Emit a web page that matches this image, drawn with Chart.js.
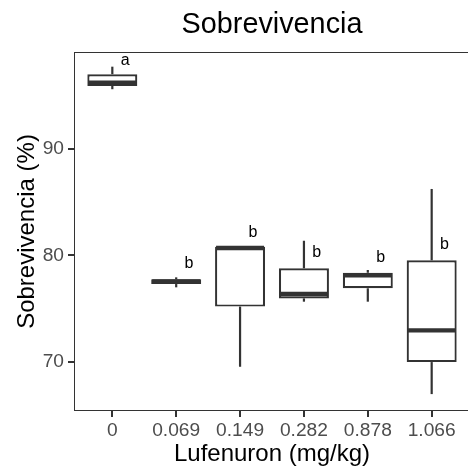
<!DOCTYPE html>
<html><head><meta charset="utf-8">
<script src="https://cdn.jsdelivr.net/npm/chart.js@4"></script>
<style>html,body{margin:0;padding:0;overflow:hidden;background:#fff;width:468px;height:469px}canvas{display:block}</style>
</head><body>
<canvas id="c" width="472" height="469"></canvas>
<script>
// ---- data ----
const categories  = ['0', '0.069', '0.149', '0.282', '0.878', '1.066'];
const whiskerMin  = [95.62, 76.99, 69.52, 75.64, 75.64, 66.95];
const q1          = [95.93, 77.30, 75.18, 75.95, 76.90, 69.96];
const median      = [96.24, 77.55, 80.69, 76.36, 78.12, 72.94];
const q3          = [97.03, 77.74, 80.80, 78.78, 78.36, 79.53];
const whiskerMax  = [97.74, 77.93, 80.80, 81.37, 78.62, 86.24];
const groupLetters = ['a', 'b', 'b', 'b', 'b', 'b'];
const letterY     = [97.90, 78.78, 81.72, 79.84, 79.37, 80.64];
const yTicks      = [70, 80, 90];
const chartTitle  = 'Sobrevivencia';
const xTitle      = 'Lufenuron (mg/kg)';
const yTitle      = 'Sobrevivencia (%)';

const INK = '#333333';
const FONT = "'Liberation Sans', Arial, Helvetica, sans-serif";
const TICK_LEN = 6;
const LINE_W = 2.2;

const boxExtras = {
  id: 'boxExtras',
  afterDraw(chart) {
    const ctx = chart.ctx, xs = chart.scales.x, ys = chart.scales.y;
    const meta = chart.getDatasetMeta(0);
    const a = chart.chartArea;
    ctx.save();
    ctx.strokeStyle = INK;
    ctx.lineCap = 'butt';
    categories.forEach((c, i) => {
      const bar = meta.data[i];
      const cx = xs.getPixelForValue(i);
      const half = bar.width / 2;
      ctx.strokeStyle = INK;
      ctx.lineWidth = LINE_W;
      ctx.beginPath();
      ctx.moveTo(cx, ys.getPixelForValue(whiskerMax[i]));
      ctx.lineTo(cx, ys.getPixelForValue(q3[i]));
      ctx.stroke();
      ctx.beginPath();
      ctx.moveTo(cx, ys.getPixelForValue(q1[i]));
      ctx.lineTo(cx, ys.getPixelForValue(whiskerMin[i]));
      ctx.stroke();
      ctx.lineWidth = LINE_W * 2;
      const my = ys.getPixelForValue(median[i]);
      ctx.beginPath();
      ctx.moveTo(cx - half + 1, my);
      ctx.lineTo(cx + half - 1, my);
      ctx.stroke();
      ctx.fillStyle = '#000';
      ctx.font = '16px ' + FONT;
      ctx.textAlign = 'center';
      ctx.textBaseline = 'alphabetic';
      ctx.fillText(groupLetters[i], xs.getPixelForValue(i + 0.2), ys.getPixelForValue(letterY[i]));
    });
    // x-axis tick marks
    ctx.strokeStyle = INK;
    ctx.lineWidth = 2;
    categories.forEach((c, i) => {
      const px = Math.round(xs.getPixelForValue(i));
      ctx.beginPath();
      ctx.moveTo(px, a.bottom - 1);
      ctx.lineTo(px, a.bottom + TICK_LEN);
      ctx.stroke();
    });
    // y-axis tick marks
    yTicks.forEach(v => {
      const py = Math.round(ys.getPixelForValue(v));
      ctx.beginPath();
      ctx.moveTo(a.left - TICK_LEN, py);
      ctx.lineTo(a.left + 1, py);
      ctx.stroke();
    });
    // panel border
    ctx.lineWidth = 1;
    ctx.strokeRect(a.left + 0.5, a.top + 0.5, a.right - a.left - 1, a.bottom - a.top - 1);
    // main title
    ctx.font = '28.8px ' + FONT;
    ctx.fillStyle = '#000';
    ctx.textAlign = 'center';
    ctx.textBaseline = 'alphabetic';
    ctx.fillText(chartTitle, (a.left + a.right) / 2, 33);
    ctx.restore();
  }
};

new Chart(document.getElementById('c'), {
  type: 'bar',
  data: {
    datasets: [{
      data: categories.map((c, i) => ({ x: i, y: [q1[i], q3[i]] })),
      backgroundColor: '#ffffff',
      borderColor: INK,
      borderWidth: LINE_W,
      borderSkipped: false,
      barPercentage: 0.783,
      categoryPercentage: 1
    }]
  },
  options: {
    responsive: false,
    animation: false,
    layout: { padding: { top: 52, right: 2, left: 0, bottom: 0 } },
    plugins: { legend: { display: false }, tooltip: { enabled: false }, title: { display: false } },
    scales: {
      x: {
        type: 'linear', min: -0.6, max: 5.6, offset: false,
        afterBuildTicks: s => { s.ticks = categories.map((c, i) => ({ value: i })); },
        ticks: { callback: v => categories[v], color: '#4D4D4D', font: { family: FONT, size: 19.2 }, padding: 2, maxRotation: 0, autoSkip: false },
        grid: { display: true, offset: false, drawOnChartArea: false, drawTicks: true, tickLength: TICK_LEN, tickColor: 'rgba(0,0,0,0)' },
        border: { display: false },
        title: { display: true, text: xTitle, color: '#000', font: { family: FONT, size: 24 }, padding: { top: 4, bottom: 0 } },
        afterFit: s => { s.height = 58; }
      },
      y: {
        min: 65.36, max: 99.12,
        afterBuildTicks: s => { s.ticks = yTicks.map(v => ({ value: v })); },
        ticks: { color: '#4D4D4D', font: { family: FONT, size: 19.2 }, padding: 4 },
        grid: { display: true, offset: false, drawOnChartArea: false, drawTicks: true, tickLength: TICK_LEN, tickColor: 'rgba(0,0,0,0)' },
        border: { display: false },
        title: { display: true, text: yTitle, color: '#000', font: { family: FONT, size: 24 }, padding: { top: 13, bottom: 0 } },
        afterFit: s => { s.width = 74; }
      }
    }
  },
  plugins: [boxExtras]
});
</script>
</body></html>
